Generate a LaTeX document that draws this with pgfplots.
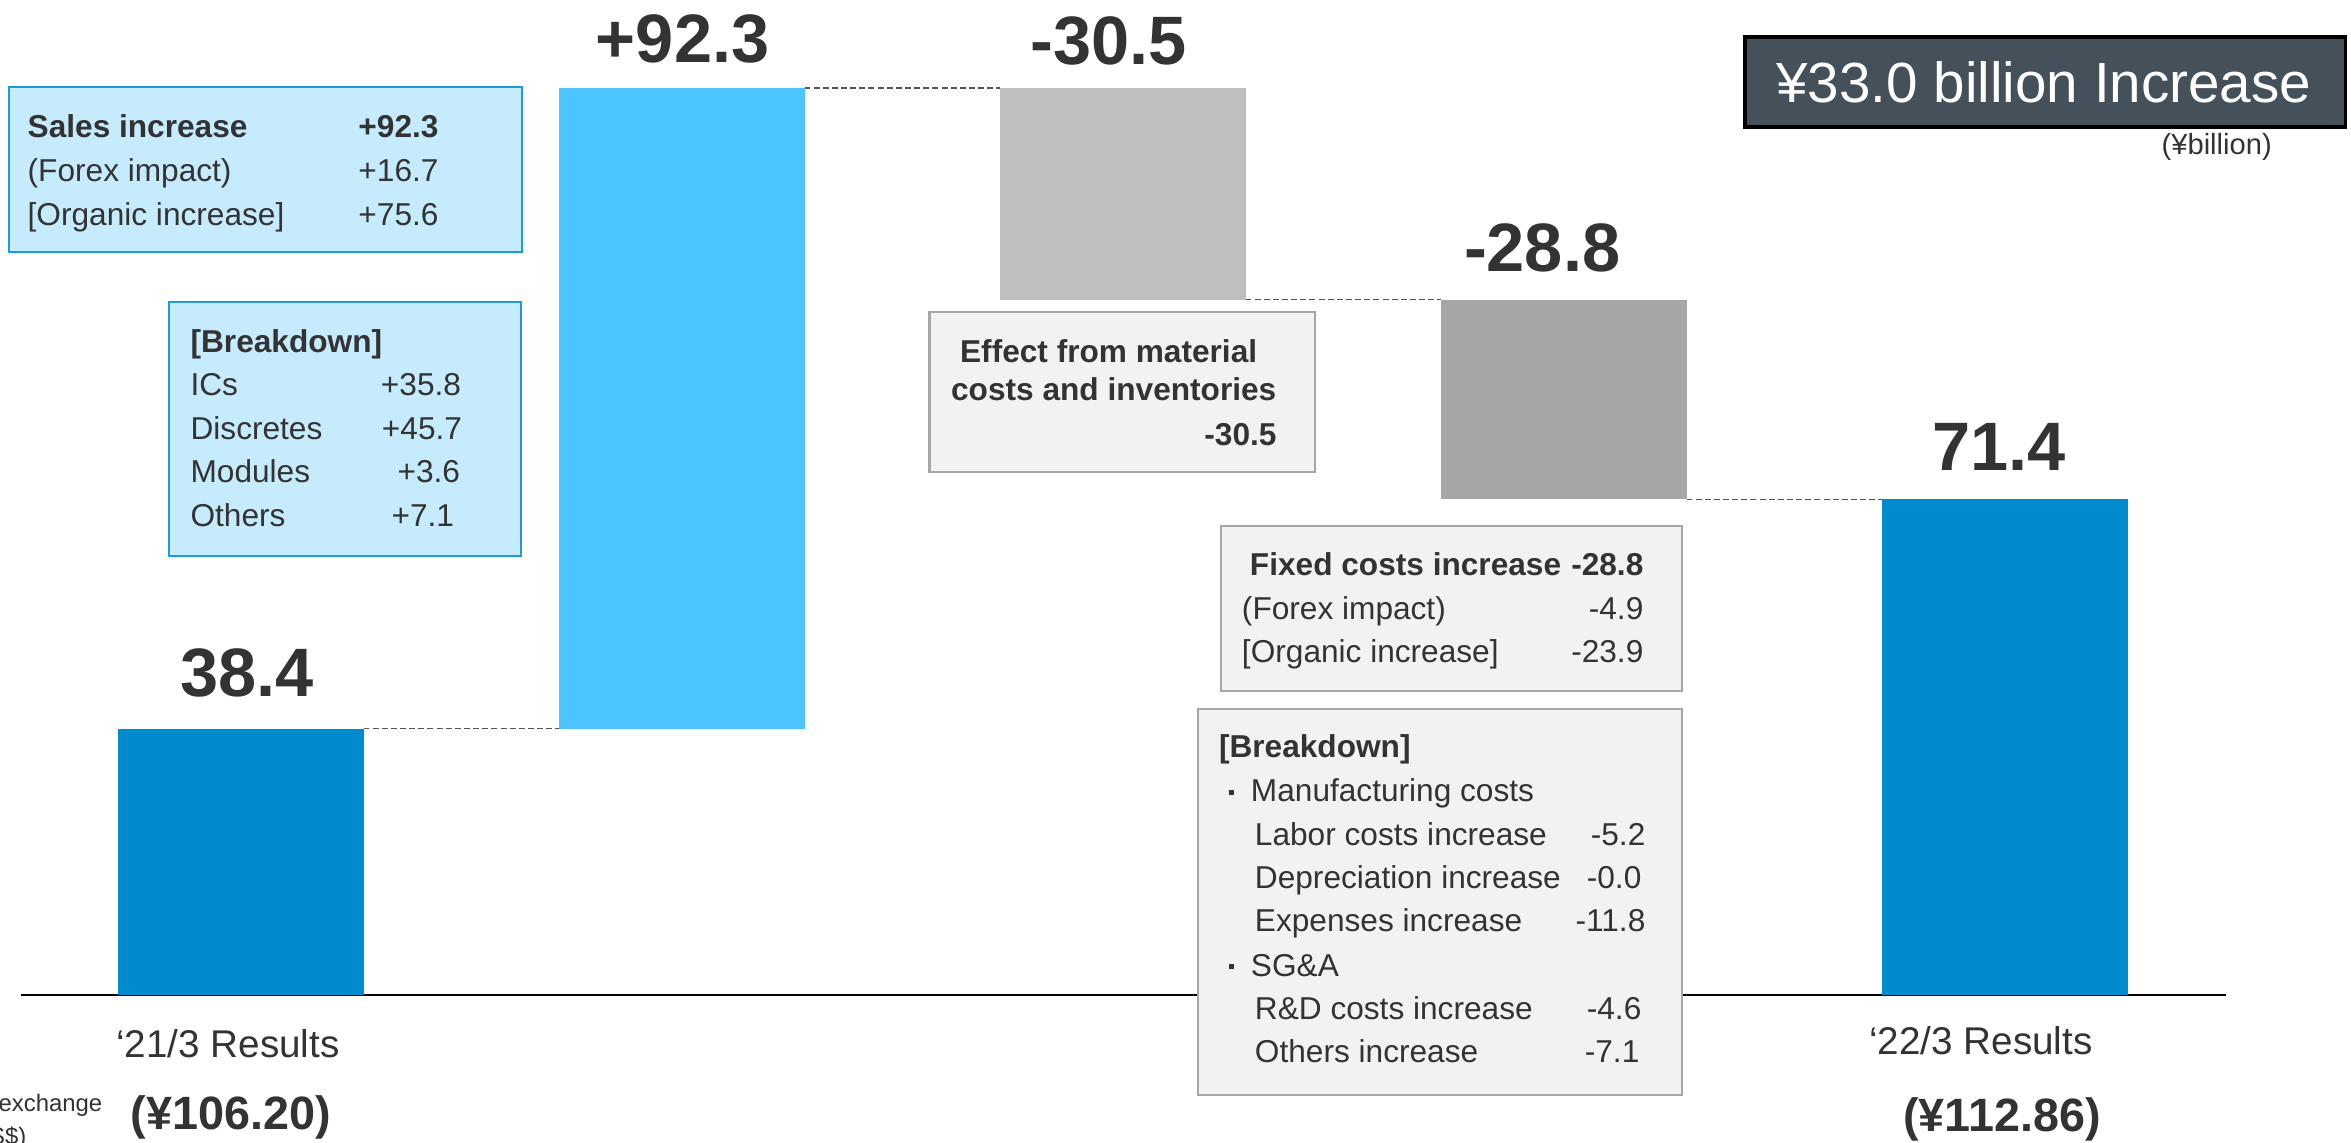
\documentclass[border=0pt]{standalone}
\usepackage{pgfplots}
\pgfplotsset{compat=1.18}
\usepackage{pgfplotstable}
\usepackage{fontspec}
\setmainfont{Liberation Sans}
\definecolor{txt}{HTML}{333333}
\definecolor{barblue}{HTML}{008BCE}
\definecolor{barlight}{HTML}{4BC4FF}
\definecolor{bargrayA}{HTML}{BFBFBF}
\definecolor{bargrayB}{HTML}{A6A6A6}
\definecolor{boxblue}{HTML}{C5EBFC}
\definecolor{boxblueline}{HTML}{1E9AD6}
\definecolor{boxgray}{HTML}{F2F2F2}
\definecolor{boxgrayline}{HTML}{A6A6A6}
\definecolor{titlebg}{HTML}{44505A}
\definecolor{dashcol}{HTML}{555555}
\newcommand{\fs}[1]{\fontsize{#1}{#1}\selectfont}

\pgfplotstableread{
x base b1 b2 b3 b4 b5
0 0 38.4 0 0 0 0
1 38.4 0 92.3 0 0 0
2 100.2 0 0 30.5 0 0
3 71.4 0 0 0 28.8 0
4 0 0 0 0 0 71.4
}\wf

\begin{document}
\begin{tikzpicture}
\begin{axis}[at={(0,0)}, anchor=south west, scale only axis,
  width=23.51cm, height=11.42cm,
  xmin=-0.5465, xmax=4.7846, ymin=-21.18, ymax=143.37,
  hide axis, clip=false, ybar stacked, bar width=0.5556]
\addplot[draw=none, fill=none] table[x=x, y=base]{\wf};
\addplot[draw=none, fill=barblue] table[x=x, y=b1]{\wf};
\addplot[draw=none, fill=barlight] table[x=x, y=b2]{\wf};
\addplot[draw=none, fill=bargrayA] table[x=x, y=b3]{\wf};
\addplot[draw=none, fill=bargrayB] table[x=x, y=b4]{\wf};
\addplot[draw=none, fill=barblue] table[x=x, y=b5]{\wf};
\draw[dashcol, line width=0.5pt, dash pattern=on 1.7pt off 0.9pt] (axis cs:0.2778,38.4) -- (axis cs:0.7222,38.4);
\draw[dashcol, line width=0.5pt, dash pattern=on 1.7pt off 0.9pt] (axis cs:1.2778,130.7) -- (axis cs:1.7222,130.7);
\draw[dashcol, line width=0.5pt, dash pattern=on 1.7pt off 0.9pt] (axis cs:2.2778,100.2) -- (axis cs:2.7222,100.2);
\draw[dashcol, line width=0.5pt, dash pattern=on 1.7pt off 0.9pt] (axis cs:3.2778,71.4) -- (axis cs:3.7222,71.4);
\draw[black, line width=0.8pt] (axis cs:-0.5,0) -- (axis cs:4.5,0);
\end{axis}

\begin{scope}[shift={(0,11.42cm)}, x=0.01cm, y=-0.01cm,
  every node/.style={inner sep=0pt, text=txt}]
% bar value labels
\node[anchor=base, font=\fs{19.5}\bfseries] at (247,697) {38.4};
\node[anchor=base, font=\fs{19.5}\bfseries] at (683,63) {+92.3};
\node[anchor=base, font=\fs{19.5}\bfseries] at (1109,65) {-30.5};
\node[anchor=base, font=\fs{19.5}\bfseries] at (1543,272) {-28.8};
\node[anchor=base, font=\fs{19.5}\bfseries] at (2000,471) {71.4};
% categories
\node[anchor=base, font=\fs{11}] at (228,1058) {‘21/3 Results};
\node[anchor=base, font=\fs{13.3}\bfseries] at (231,1130) {(¥106.20)};
\node[anchor=base, font=\fs{11}] at (1982,1055) {‘22/3 Results};
\node[anchor=base, font=\fs{13.3}\bfseries] at (2003,1132) {(¥112.86)};
\node[anchor=base east, font=\fs{6.8}] at (103,1112) {Forex exchange};
\node[anchor=base east, font=\fs{6.8}] at (27,1145) {rate (US\$)};
% title box
\draw[fill=titlebg, draw=black, line width=1pt] (1746,37) rectangle (2347,127);
\node[anchor=base, font=\fs{16.1}, text=white] at (2045,103) {¥33.0 billion Increase};
\node[anchor=base, font=\fs{8.3}] at (2218,155) {(¥billion)};
% blue box 1
\draw[fill=boxblue, draw=boxblueline, line width=0.6pt] (9,87) rectangle (522,252);
\node[anchor=base west, font=\fs{9}\bfseries] at (27,138) {Sales increase};
\node[anchor=base west, font=\fs{9}\bfseries] at (358,138) {+92.3};
\node[anchor=base west, font=\fs{9}] at (27,182) {(Forex impact)};
\node[anchor=base west, font=\fs{9}] at (358,182) {+16.7};
\node[anchor=base west, font=\fs{9}] at (27,226) {[Organic increase]};
\node[anchor=base west, font=\fs{9}] at (358,226) {+75.6};
% blue box 2
\draw[fill=boxblue, draw=boxblueline, line width=0.6pt] (169,302) rectangle (521,556);
\node[anchor=base west, font=\fs{9}\bfseries] at (190,353) {[Breakdown]};
\node[anchor=base west, font=\fs{9}] at (190,396) {ICs};
\node[anchor=base east, font=\fs{9}] at (462,396) {+35.8};
\node[anchor=base west, font=\fs{9}] at (190,440) {Discretes};
\node[anchor=base east, font=\fs{9}] at (463,440) {+45.7};
\node[anchor=base west, font=\fs{9}] at (190,483) {Modules};
\node[anchor=base east, font=\fs{9}] at (461,483) {+3.6};
\node[anchor=base west, font=\fs{9}] at (190,527) {Others};
\node[anchor=base east, font=\fs{9}] at (455,527) {+7.1};
% gray box 1
\draw[fill=boxgray, draw=boxgrayline, line width=0.6pt] (930,312) rectangle (1316,472);
\node[anchor=base west, font=\fs{9}\bfseries] at (960,363) {Effect from material};
\node[anchor=base west, font=\fs{9}\bfseries] at (951,401) {costs and inventories};
\node[anchor=base east, font=\fs{9}\bfseries] at (1278,446) {-30.5};
% gray box 2
\draw[fill=boxgray, draw=boxgrayline, line width=0.6pt] (1222,526) rectangle (1683,691);
\node[anchor=base west, font=\fs{9}\bfseries] at (1250,576) {Fixed costs increase};
\node[anchor=base east, font=\fs{9}\bfseries] at (1645,576) {-28.8};
\node[anchor=base west, font=\fs{9}] at (1242,620) {(Forex impact)};
\node[anchor=base east, font=\fs{9}] at (1645,620) {-4.9};
\node[anchor=base west, font=\fs{9}] at (1242,663) {[Organic increase]};
\node[anchor=base east, font=\fs{9}] at (1645,663) {-23.9};
% gray box 3
\draw[fill=boxgray, draw=boxgrayline, line width=0.6pt] (1199,709) rectangle (1683,1096);
\node[anchor=base west, font=\fs{9}\bfseries] at (1219,758) {[Breakdown]};
\fill[txt] (1230,790) rectangle (1235,795);
\node[anchor=base west, font=\fs{9}] at (1251,802) {Manufacturing costs};
\node[anchor=base west, font=\fs{9}] at (1255,846) {Labor costs increase};
\node[anchor=base east, font=\fs{9}] at (1647,846) {-5.2};
\node[anchor=base west, font=\fs{9}] at (1255,889) {Depreciation increase};
\node[anchor=base east, font=\fs{9}] at (1643,889) {-0.0};
\node[anchor=base west, font=\fs{9}] at (1255,932) {Expenses increase};
\node[anchor=base east, font=\fs{9}] at (1647,932) {-11.8};
\fill[txt] (1230,965) rectangle (1235,970);
\node[anchor=base west, font=\fs{9}] at (1251,977) {SG\&A};
\node[anchor=base west, font=\fs{9}] at (1255,1020) {R\&D costs increase};
\node[anchor=base east, font=\fs{9}] at (1643,1020) {-4.6};
\node[anchor=base west, font=\fs{9}] at (1255,1063) {Others increase};
\node[anchor=base east, font=\fs{9}] at (1641,1063) {-7.1};
\end{scope}
\pgfresetboundingbox
\useasboundingbox (0,0) rectangle (23.51cm,11.42cm);
\end{tikzpicture}
\end{document}
